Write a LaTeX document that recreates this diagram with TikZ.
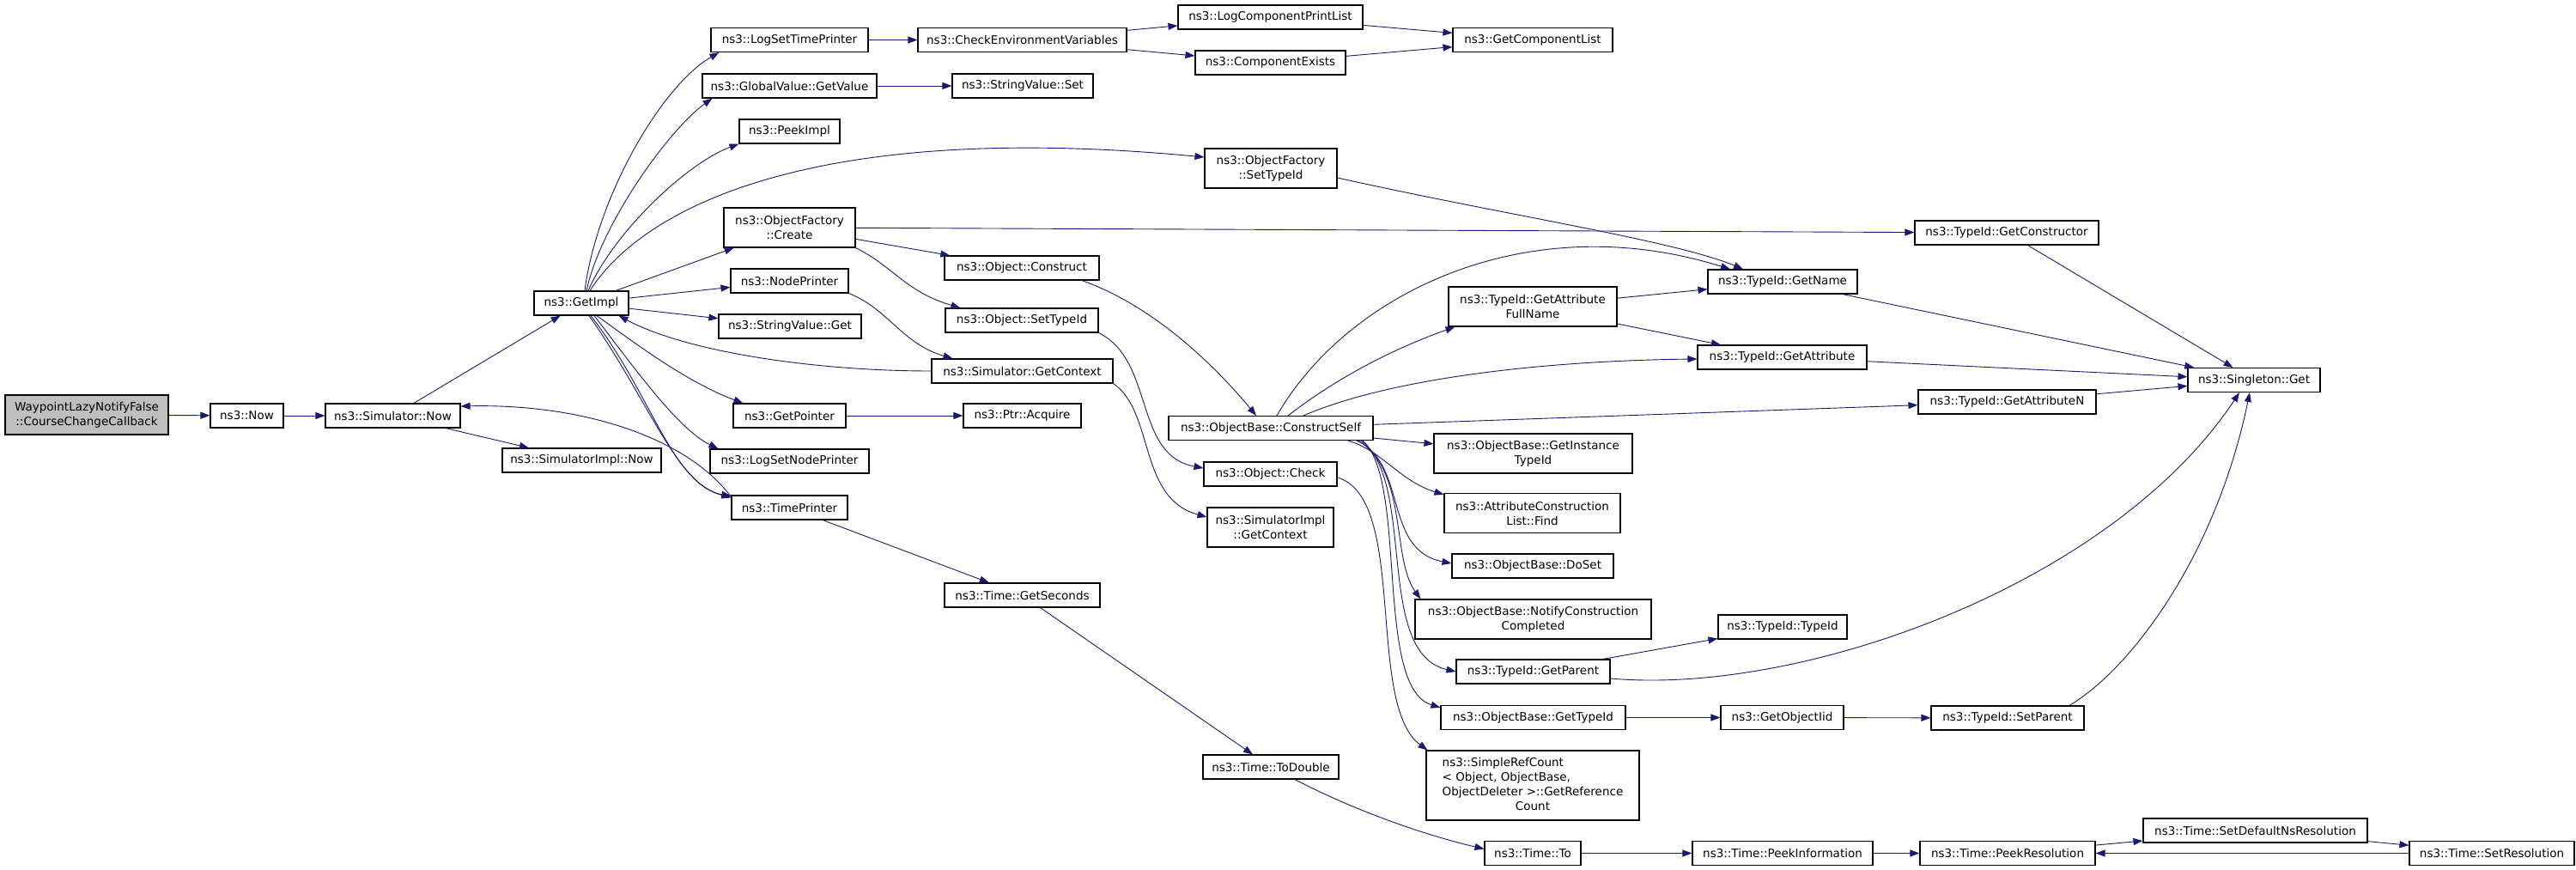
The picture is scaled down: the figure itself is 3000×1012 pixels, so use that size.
\documentclass[tikz,border=0pt]{standalone}
\usepackage{fontspec}
\setmainfont{DejaVu Sans}
\usetikzlibrary{arrows.meta}
\definecolor{edgeblue}{HTML}{191970}
\definecolor{rootgray}{HTML}{BFBFBF}
\begin{document}
\begin{tikzpicture}[x=1pt, y=1pt,
  fn/.style={draw=black, line width=1.1pt, fill=white, inner sep=0pt, minimum height=28pt, align=center, font=\fontsize{13.5}{17}\selectfont},
  fn2/.style={fn, minimum height=46pt},
  root/.style={fn2, fill=rootgray},
  arr/.style={draw=edgeblue, line width=0.9pt, -{Triangle[length=11pt,width=8pt]}}]
\useasboundingbox (0,0) rectangle (3000,-1012);
\node[root, minimum width=190pt] (cb) at (101,-483) {WaypointLazyNotifyFalse\\::CourseChangeCallback};
\node[fn, minimum width=85pt] (now) at (287.5,-484) {ns3::Now};
\node[fn, minimum width=157pt] (simnow) at (457.5,-484) {ns3::Simulator::Now};
\node[fn, minimum width=185pt] (simimplnow) at (677.5,-536) {ns3::SimulatorImpl::Now};
\node[fn, minimum width=110pt] (getimpl) at (677,-353) {ns3::GetImpl};
\node[fn, minimum width=183pt] (logsettp) at (919.5,-46.5) {ns3::LogSetTimePrinter};
\node[fn, minimum width=243pt] (checkenv) at (1190.5,-46.5) {ns3::CheckEnvironmentVariables};
\node[fn, minimum width=215pt] (logcpl) at (1479.5,-20) {ns3::LogComponentPrintList};
\node[fn, minimum width=175pt] (compexists) at (1479.5,-73) {ns3::ComponentExists};
\node[fn, minimum width=186pt] (getcomplist) at (1785,-46.5) {ns3::GetComponentList};
\node[fn, minimum width=203pt] (gvgetvalue) at (919.5,-100) {ns3::GlobalValue::GetValue};
\node[fn, minimum width=164pt] (svset) at (1191,-100) {ns3::StringValue::Set};
\node[fn, minimum width=117pt] (peekimpl) at (919.5,-153) {ns3::PeekImpl};
\node[fn2, minimum width=154pt] (ofsettypeid) at (1480,-196) {ns3::ObjectFactory\\::SetTypeId};
\node[fn2, minimum width=153pt] (ofcreate) at (919.5,-265) {ns3::ObjectFactory\\::Create};
\node[fn, minimum width=180pt] (objconstruct) at (1190,-312) {ns3::Object::Construct};
\node[fn, minimum width=137pt] (nodeprinter) at (919.5,-327) {ns3::NodePrinter};
\node[fn, minimum width=178pt] (objsettypeid) at (1190,-373) {ns3::Object::SetTypeId};
\node[fn, minimum width=166pt] (svget) at (920,-380) {ns3::StringValue::Get};
\node[fn, minimum width=211pt] (simgetctx) at (1190.5,-432) {ns3::Simulator::GetContext};
\node[fn, minimum width=131pt] (getpointer) at (919.5,-484) {ns3::GetPointer};
\node[fn, minimum width=137pt] (ptracquire) at (1190.5,-484) {ns3::Ptr::Acquire};
\node[fn, minimum width=185pt] (logsetnp) at (919.5,-537) {ns3::LogSetNodePrinter};
\node[fn, minimum width=135pt] (timeprinter) at (919.5,-591) {ns3::TimePrinter};
\node[fn, minimum width=181pt] (getseconds) at (1190.5,-693) {ns3::Time::GetSeconds};
\node[fn, minimum width=238pt] (constructself) at (1480,-498.5) {ns3::ObjectBase::ConstructSelf};
\node[fn, minimum width=155pt] (objcheck) at (1479.5,-552) {ns3::Object::Check};
\node[fn2, minimum width=147pt] (simimplgetctx) at (1479.5,-614) {ns3::SimulatorImpl\\::GetContext};
\node[fn, minimum width=158pt] (todouble) at (1480,-893) {ns3::Time::ToDouble};
\node[fn2, minimum width=196pt] (getattrfull) at (1785,-357) {ns3::TypeId::GetAttribute\\FullName};
\node[fn2, minimum width=231pt] (getinsttid) at (1785.5,-528) {ns3::ObjectBase::GetInstance\\TypeId};
\node[fn2, minimum width=205pt] (acfind) at (1784.5,-597.5) {ns3::AttributeConstruction\\List::Find};
\node[fn, minimum width=188pt] (doset) at (1785,-659) {ns3::ObjectBase::DoSet};
\node[fn2, minimum width=275pt] (notify) at (1785.5,-721) {ns3::ObjectBase::NotifyConstruction\\Completed};
\node[fn, minimum width=179pt] (getparent) at (1785.5,-782) {ns3::TypeId::GetParent};
\node[fn, minimum width=215pt] (obgettypeid) at (1785.5,-835.5) {ns3::ObjectBase::GetTypeId};
\node[fn, minimum width=248pt, minimum height=81pt] (simplerefcount) at (1785,-914.5) {\begin{tabular}{@{}l@{}}ns3::SimpleRefCount\\< Object, ObjectBase,\\ObjectDeleter >::GetReference\\\multicolumn{1}{@{}c@{}}{Count}\end{tabular}};
\node[fn, minimum width=174pt] (getname) at (2076,-328) {ns3::TypeId::GetName};
\node[fn, minimum width=197pt] (getattr) at (2075.5,-416) {ns3::TypeId::GetAttribute};
\node[fn, minimum width=150pt] (typeidtypeid) at (2076,-730) {ns3::TypeId::TypeId};
\node[fn, minimum width=143pt] (getobjectiid) at (2075.5,-835.5) {ns3::GetObjectIid};
\node[fn, minimum width=214pt] (getconstructor) at (2337,-271) {ns3::TypeId::GetConstructor};
\node[fn, minimum width=207pt] (getattrn) at (2337.5,-468) {ns3::TypeId::GetAttributeN};
\node[fn, minimum width=178pt] (setparent) at (2338,-836) {ns3::TypeId::SetParent};
\node[fn, minimum width=154pt] (singleton) at (2625,-442.5) {ns3::Singleton::Get};
\node[fn, minimum width=112pt] (timeto) at (1785,-993.5) {ns3::Time::To};
\node[fn, minimum width=210pt] (peekinfo) at (2076,-993.5) {ns3::Time::PeekInformation};
\node[fn, minimum width=204pt] (peekres) at (2338,-993.5) {ns3::Time::PeekResolution};
\node[fn, minimum width=261pt] (setdefns) at (2626.5,-967) {ns3::Time::SetDefaultNsResolution};
\node[fn, minimum width=192pt] (setres) at (2902,-993.5) {ns3::Time::SetResolution};
\draw[arr] (cb) -- (now);
\draw[arr] (now) -- (simnow);
\draw[arr] (simnow) -- (getimpl);
\draw[arr] (simnow) -- (simimplnow);
\draw[arr] ([xshift=4pt]getimpl.north) .. controls (695,-230) and (770,-100) .. ([xshift=10pt]logsettp.south west);
\draw[arr] ([xshift=6pt]getimpl.north) .. controls (700,-260) and (780,-150) .. ([xshift=12pt]gvgetvalue.south west);
\draw[arr] ([xshift=8pt]getimpl.north) .. controls (715,-270) and (800,-190) .. (peekimpl.south west);
\draw[arr] ([xshift=10pt]getimpl.north) .. controls (750,-240) and (950,-140) .. ([yshift=13pt]ofsettypeid.west);
\draw[arr] (getimpl) -- (ofcreate);
\draw[arr] (getimpl) -- (nodeprinter);
\draw[arr] (getimpl) -- (svget);
\draw[arr] (simgetctx.west) .. controls (950,-432) and (800,-410) .. ([xshift=-12pt]getimpl.south east);
\draw[arr] ([xshift=18pt]getimpl.south) .. controls (740,-400) and (800,-445) .. ([xshift=12pt]getpointer.north west);
\draw[arr] ([xshift=15pt]getimpl.south) .. controls (740,-430) and (790,-500) .. ([xshift=10pt]logsetnp.north west);
\draw[arr] ([xshift=11pt]getimpl.south) .. controls (760,-460) and (780,-560) .. ([yshift=-3pt]timeprinter.north west);
\draw[arr] ([xshift=9pt]getimpl.south) .. controls (755,-465) and (790,-568) .. ([yshift=-1pt]timeprinter.north west);
\draw[arr] ([yshift=-2pt]timeprinter.north west) .. controls (800,-510) and (680,-470) .. ([yshift=11pt]simnow.east);
\draw[arr] (logsettp) -- (checkenv);
\draw[arr] (checkenv) -- (logcpl);
\draw[arr] (checkenv) -- (compexists);
\draw[arr] (logcpl) -- (getcomplist);
\draw[arr] (compexists) -- (getcomplist);
\draw[arr] (gvgetvalue) -- (svset);
\draw[arr] (getpointer) -- (ptracquire);
\draw[arr] ([yshift=-11pt]ofsettypeid.east) .. controls (1750,-250) and (1950,-280) .. ([xshift=-46pt]getname.north);
\draw[arr] (ofcreate) -- (getconstructor);
\draw[arr] (ofcreate) -- (objconstruct);
\draw[arr] (ofcreate.south east) .. controls (1040,-310) and (1055,-340) .. ([xshift=18pt]objsettypeid.north west);
\draw[arr] (nodeprinter.south east) .. controls (1035,-360) and (1050,-400) .. ([xshift=25pt]simgetctx.north west);
\draw[arr] ([xshift=70pt]objconstruct.south) .. controls (1340,-355) and (1410,-420) .. ([xshift=-17pt]constructself.north);
\draw[arr] (objsettypeid.south east) .. controls (1345,-420) and (1320,-530) .. ([yshift=7pt]objcheck.west);
\draw[arr] (simgetctx.south east) .. controls (1345,-480) and (1325,-580) .. ([yshift=12pt]simimplgetctx.west);
\draw[arr] ([xshift=7pt]constructself.north) .. controls (1570,-340) and (1780,-240) .. ([xshift=-61pt]getname.north);
\draw[arr] ([xshift=20pt]constructself.north) .. controls (1570,-430) and (1640,-400) .. ([xshift=8pt]getattrfull.south west);
\draw[arr] ([xshift=38pt]constructself.north) .. controls (1620,-440) and (1800,-420) .. ([yshift=-2pt]getattr.west);
\draw[arr] (constructself) -- (getattrn);
\draw[arr] (constructself) -- (getinsttid);
\draw[arr] ([xshift=90pt]constructself.south) .. controls (1610,-525) and (1630,-560) .. ([yshift=-2pt]acfind.north west);
\draw[arr] ([xshift=100pt]constructself.south) .. controls (1640,-540) and (1610,-640) .. ([yshift=3pt]doset.west);
\draw[arr] ([xshift=102pt]constructself.south) .. controls (1640,-550) and (1620,-650) .. ([xshift=7pt]notify.north west);
\draw[arr] ([xshift=105pt]constructself.south) .. controls (1650,-560) and (1600,-760) .. (getparent.west);
\draw[arr] ([xshift=107pt]constructself.south) .. controls (1640,-560) and (1600,-800) .. ([yshift=-3pt]obgettypeid.north west);
\draw[arr] ([yshift=-4pt]objcheck.east) .. controls (1640,-580) and (1590,-820) .. ([xshift=2pt]simplerefcount.north west);
\draw[arr] (getattrfull) -- (getname);
\draw[arr] (getattrfull) -- (getattr);
\draw[arr] (getname) -- (singleton);
\draw[arr] (getattr) -- (singleton);
\draw[arr] (getconstructor) -- (singleton);
\draw[arr] (getattrn) -- (singleton);
\draw[arr] (getparent) -- (typeidtypeid);
\draw[arr] ([yshift=-8pt]getparent.east) .. controls (2100,-810) and (2460,-680) .. ([xshift=-17pt]singleton.south);
\draw[arr] ([xshift=72pt]setparent.north) .. controls (2480,-780) and (2580,-650) .. ([xshift=-5pt]singleton.south);
\draw[arr] (obgettypeid) -- (getobjectiid);
\draw[arr] (getobjectiid) -- (setparent);
\draw[arr] (timeprinter) -- (getseconds);
\draw[arr] (getseconds) -- (todouble);
\draw[arr] ([xshift=28pt]todouble.south) .. controls (1570,-940) and (1650,-970) .. ([yshift=5pt]timeto.west);
\draw[arr] (timeto) -- (peekinfo);
\draw[arr] (peekinfo) -- (peekres);
\draw[arr] (peekres) -- (setdefns);
\draw[arr] (setdefns) -- (setres);
\draw[arr] (setres) -- (peekres);
\end{tikzpicture}
\end{document}
